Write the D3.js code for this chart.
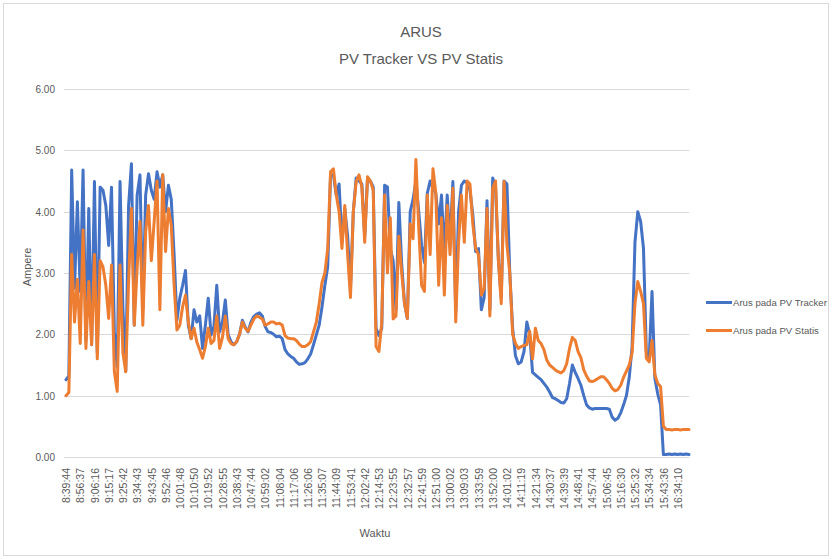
<!DOCTYPE html>
<html>
  <head>
    <meta charset="utf-8">
    <title>ARUS - PV Tracker VS PV Statis</title>
    <script src="https://d3js.org/d3.v7.min.js"></script>
    <style>
      body { margin: 0; background: #fff; }
      text { font-family: 'Liberation Sans', Arial, sans-serif; fill: #595959; }
    </style>
  </head>
  <body>
    <script>

      // time labels shown on the x axis, one every 5 readings
      var tickLabels = ["8:39:44","8:56:37","9:06:16","9:15:17","9:25:42","9:34:43","9:43:45","9:52:46",
        "10:01:48","10:10:50","10:19:52","10:28:55","10:38:43","10:47:44","10:59:02","11:08:04",
        "11:17:06","11:26:06","11:35:07","11:44:09","11:53:41","12:02:42","12:14:53","12:23:55",
        "12:32:57","12:41:59","12:51:00","13:00:02","13:09:03","13:33:59","13:52:00","14:01:02",
        "14:11:19","14:21:34","14:30:37","14:39:39","14:48:41","14:57:44","15:06:45","15:16:30",
        "15:25:32","15:34:34","15:43:36","16:34:10"];
      var labelEvery = 5;

      var yTicks = [0, 1, 2, 3, 4, 5, 6];

      var seriesNames = ["Arus pada PV Tracker", "Arus pada PV Statis"];

      // Arus pada PV Tracker (A)
      var tracker = [
        1.26,1.32,4.68,2.75,4.16,2.7,4.68,1.9,4.05,1.83,4.49,1.7,4.4,4.35,4.1,3.45,4.4,2.04,1.47,4.49,
        2.42,1.4,4.1,4.78,2.15,4.27,4.6,2.4,4.27,4.62,4.35,4.2,4.65,4.4,4.6,4.0,4.43,
        4.2,3.3,2.23,2.59,2.8,3.04,2.15,1.93,2.4,2.2,2.3,1.77,2.15,2.59,1.99,2.13,2.8,2.04,2.2,2.56,
        1.99,1.88,1.83,1.88,2.0,2.23,2.12,2.04,2.2,2.29,2.33,2.35,2.3,2.13,2.04,2.03,2.0,
        1.96,1.97,1.93,1.75,1.68,1.64,1.61,1.55,1.51,1.52,1.54,1.6,1.68,1.83,1.99,2.15,2.45,2.8,3.1,
        4.6,4.6,4.27,4.45,3.5,4.05,3.6,2.75,4.0,4.55,4.5,4.45,3.6,4.55,4.5,4.4,2.1,1.98,
        2.1,4.43,4.4,3.4,3.2,2.4,4.15,3.15,2.5,2.26,4.0,4.2,4.5,4.0,3.45,3.17,4.3,4.5,4.38,4.3,
        3.8,4.27,3.3,4.27,3.5,4.49,2.37,4.0,4.43,4.5,4.47,4.35,3.95,3.35,3.4,2.4,2.6,
        4.18,2.4,4.55,4.4,3.2,2.6,4.5,4.45,3.0,2.1,1.65,1.52,1.55,1.72,2.2,2.0,1.38,1.34,1.3,1.26,
        1.2,1.14,1.06,0.97,0.95,0.92,0.89,0.88,0.95,1.2,1.5,1.38,1.28,1.17,1.0,0.85,0.8,
        0.78,0.79,0.79,0.79,0.79,0.79,0.78,0.65,0.6,0.63,0.72,0.85,1.0,1.3,1.8,3.5,4.0,3.84,3.4,1.72,
        1.6,2.7,1.28,1.03,0.85,0.04,0.04,0.05,0.04,0.05,0.04,0.05,0.04,0.05,0.04
      ];

      // Arus pada PV Statis (A)
      var statis = [
        1.0,1.05,3.3,2.2,2.9,1.85,3.7,1.77,2.86,1.83,3.3,1.6,3.2,3.1,2.8,2.26,3.13,1.39,1.07,3.13,
        1.7,1.39,2.86,4.05,2.15,3.08,3.84,2.15,3.67,4.1,3.2,3.84,4.5,2.4,4.6,3.35,4.05,
        3.78,2.8,2.07,2.15,2.45,2.64,2.2,1.93,2.1,1.87,1.75,1.61,1.8,2.1,1.85,1.9,2.3,1.77,1.95,2.3,
        1.93,1.85,1.83,1.88,2.0,2.2,2.1,2.05,2.15,2.25,2.3,2.28,2.25,2.15,2.17,2.2,2.2,
        2.17,2.18,2.15,1.98,1.94,1.93,1.93,1.9,1.84,1.8,1.8,1.83,1.88,2.04,2.2,2.5,2.85,3.0,3.4,
        4.65,4.7,4.27,4.0,3.4,4.1,3.3,2.6,4.0,4.49,4.6,4.4,3.5,4.57,4.5,4.35,1.8,1.72,
        2.2,4.27,3.0,3.9,2.25,2.3,3.6,3.0,2.5,2.26,3.8,3.56,4.85,3.73,2.8,2.7,4.27,3.3,4.7,4.3,
        2.8,3.9,2.64,4.1,3.3,4.38,2.2,3.5,4.27,3.5,4.5,4.45,3.8,3.4,3.3,2.64,2.75,
        4.05,2.3,4.38,4.5,3.2,2.5,4.49,3.46,3.0,2.0,1.85,1.77,1.8,1.82,1.83,2.05,1.6,2.1,1.9,1.85,
        1.75,1.58,1.5,1.46,1.42,1.39,1.37,1.41,1.52,1.77,1.95,1.9,1.72,1.62,1.42,1.32,1.24,
        1.23,1.25,1.28,1.31,1.31,1.26,1.2,1.12,1.08,1.1,1.17,1.3,1.4,1.5,1.7,2.5,2.86,2.7,2.5,1.61,
        1.55,1.9,1.34,1.2,1.15,0.5,0.45,0.45,0.44,0.45,0.45,0.44,0.45,0.45,0.45
      ];

      var colors = ["#4472C4", "#ED7D31"];

      var width = 832, height = 559;
      var plot = { left: 64, right: 689, top: 89, bottom: 457 };

      var svg = d3.select("body")
                  .append("svg")
                  .attr("width", width)
                  .attr("height", height);

      // chart border
      svg.append("rect")
         .attr("x", 3.5).attr("y", 3.5)
         .attr("width", 825).attr("height", 552)
         .attr("fill", "#fff")
         .attr("stroke", "#d9d9d9");

      var x = d3.scaleLinear()
                .domain([0, tracker.length - 1])
                .range([66, plot.right]);

      var y = d3.scaleLinear()
                .domain([0, 6])
                .range([plot.bottom, plot.top]);

      // horizontal gridlines + y labels
      svg.append("g")
         .selectAll("line")
         .data(yTicks)
         .enter()
         .append("line")
         .attr("x1", plot.left)
         .attr("x2", plot.right)
         .attr("y1", function(d){ return Math.round(y(d)) + 0.5; })
         .attr("y2", function(d){ return Math.round(y(d)) + 0.5; })
         .attr("stroke", "#d9d9d9")
         .attr("stroke-width", 1);

      svg.append("g")
         .selectAll("text")
         .data(yTicks)
         .enter()
         .append("text")
         .attr("x", 55)
         .attr("y", function(d){ return y(d) + 4; })
         .attr("text-anchor", "end")
         .style("font-size", "10px")
         .text(function(d){ return d3.format(".2f")(d); });

      // x axis labels (rotated)
      var tickIdx = tickLabels.map(function(d, i){ return i * labelEvery; });
      var xAxis = d3.axisBottom(x)
                    .tickValues(tickIdx)
                    .tickSize(0)
                    .tickFormat(function(d, i){ return tickLabels[i]; });

      var gx = svg.append("g")
                  .attr("transform", "translate(0," + plot.bottom + ")")
                  .call(xAxis);
      gx.select(".domain").remove();
      gx.selectAll("text")
        .attr("transform", "rotate(-90)")
        .attr("text-anchor", "end")
        .attr("x", -11)
        .attr("y", 0)
        .attr("dy", "0.35em")
        .attr("fill", "#595959")
        .style("font-size", "10.5px")
        .style("font-family", "'Liberation Sans', Arial, sans-serif");

      // lines
      var line = d3.line()
                   .x(function(d, i){ return x(i); })
                   .y(function(d){ return y(d); });

      [tracker, statis].forEach(function(s, k){
        svg.append("path")
           .datum(s)
           .attr("d", line)
           .attr("fill", "none")
           .attr("stroke", colors[k])
           .attr("stroke-width", 3)
           .attr("stroke-linejoin", "round")
           .attr("stroke-linecap", "round");
      });

      // titles
      svg.append("text")
         .attr("x", 421).attr("y", 36.5)
         .attr("text-anchor", "middle")
         .style("font-size", "15px")
         .text("ARUS");
      svg.append("text")
         .attr("x", 421).attr("y", 63.5)
         .attr("text-anchor", "middle")
         .style("font-size", "15px")
         .text("PV Tracker VS PV Statis");

      svg.append("text")
         .attr("transform", "translate(31,267) rotate(-90)")
         .attr("text-anchor", "middle")
         .style("font-size", "11px")
         .text("Ampere");

      svg.append("text")
         .attr("x", 375).attr("y", 537)
         .attr("text-anchor", "middle")
         .style("font-size", "11px")
         .text("Waktu");

      // legend
      var legend = svg.append("g")
                      .selectAll("g")
                      .data(seriesNames)
                      .enter()
                      .append("g")
                      .attr("transform", function(d, i){ return "translate(706," + (302.5 + i * 28) + ")"; });
      legend.append("line")
            .attr("x1", 0).attr("x2", 26)
            .attr("stroke", function(d, i){ return colors[i]; })
            .attr("stroke-width", 3);
      legend.append("text")
            .attr("x", 27)
            .attr("y", 3.5)
            .style("font-size", "9.6px")
            .text(function(d){ return d; });

    </script>
  </body>
</html>
